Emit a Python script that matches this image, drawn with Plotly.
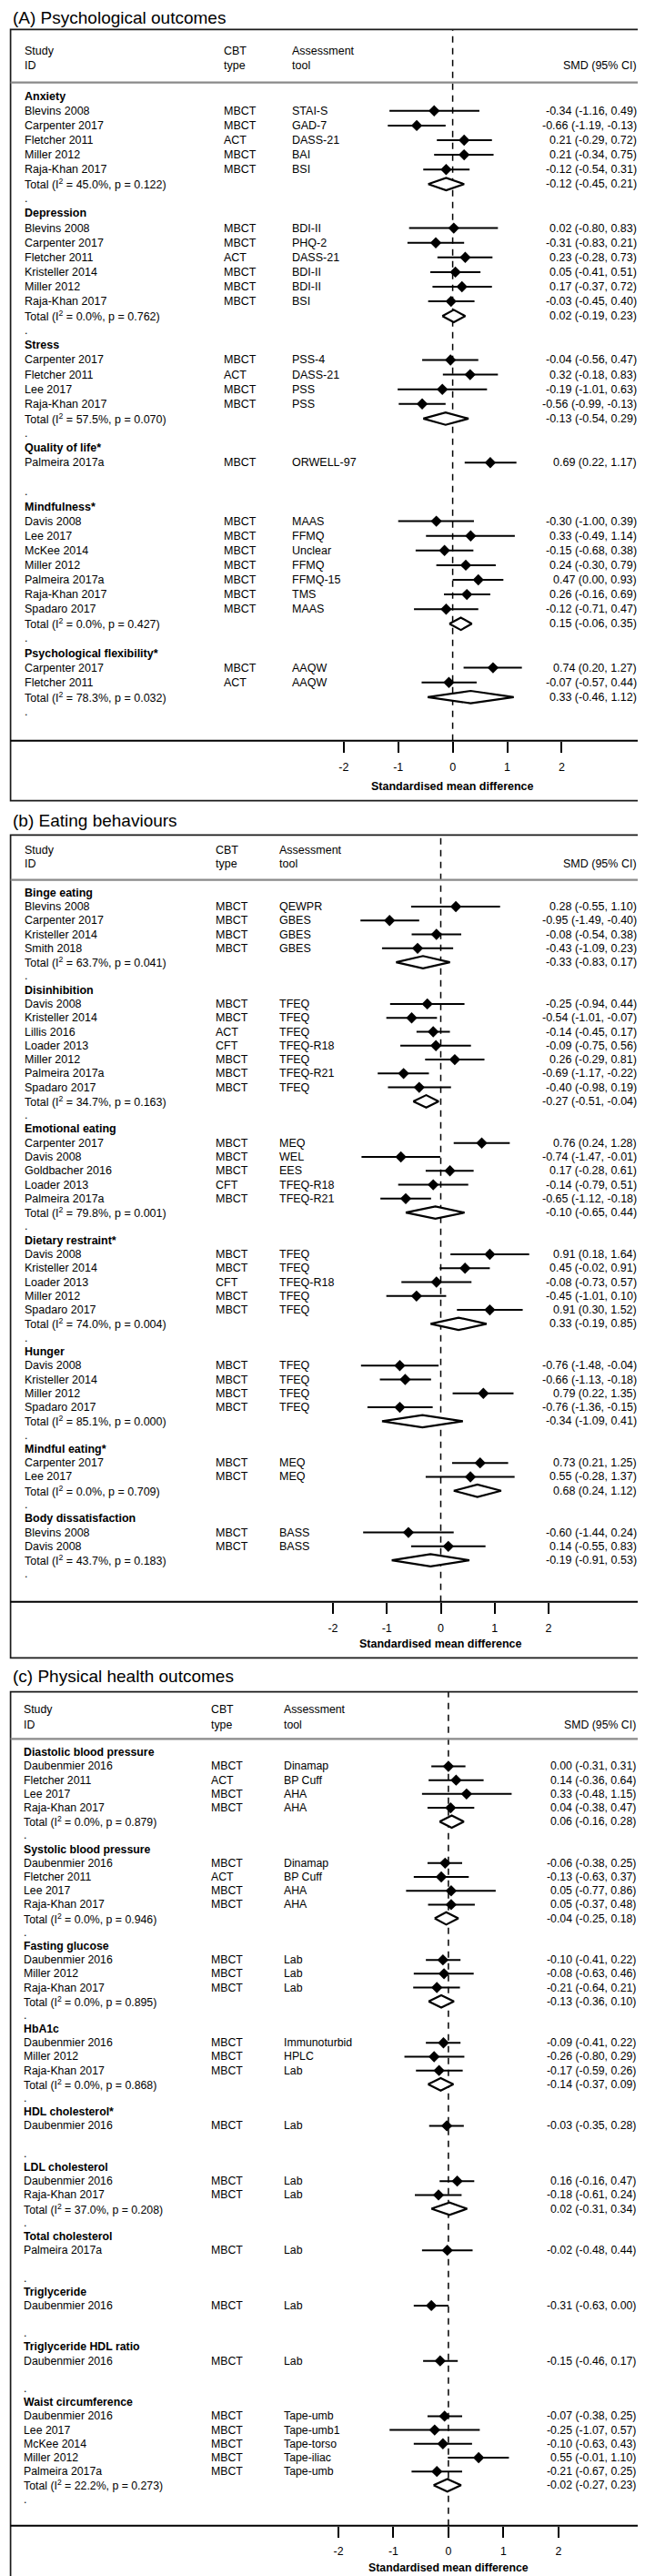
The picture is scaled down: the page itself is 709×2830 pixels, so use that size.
import plotly.graph_objects as go

W, H = 709, 2830
FONT = "Liberation Sans, Arial, Helvetica, sans-serif"

TICK_VALS = [-2, -1, 0, 1, 2]
TICK_LABELS = ["-2", "-1", "0", "1", "2"]
HEADERS = [("Study", "ID"), ("CBT", "type"), ("Assessment", "tool")]
SMD_HEADER = "SMD (95% CI)"
AXIS_TITLE = "Standardised mean difference"

# ---------------- Panel A ----------------
A_TITLE = "(A) Psychological outcomes"
A_GROUPS = ["Anxiety", "Depression", "Stress", "Quality of life*", "Mindfulness*",
            "Psychological flexibility*"]
A_GROUP_N = [5, 6, 4, 1, 7, 2]
A_STUDY = ["Blevins 2008", "Carpenter 2017", "Fletcher 2011", "Miller 2012", "Raja-Khan 2017",
           "Blevins 2008", "Carpenter 2017", "Fletcher 2011", "Kristeller 2014", "Miller 2012", "Raja-Khan 2017",
           "Carpenter 2017", "Fletcher 2011", "Lee 2017", "Raja-Khan 2017",
           "Palmeira 2017a",
           "Davis 2008", "Lee 2017", "McKee 2014", "Miller 2012", "Palmeira 2017a", "Raja-Khan 2017", "Spadaro 2017",
           "Carpenter 2017", "Fletcher 2011"]
A_CBT = ["MBCT", "MBCT", "ACT", "MBCT", "MBCT",
         "MBCT", "MBCT", "ACT", "MBCT", "MBCT", "MBCT",
         "MBCT", "ACT", "MBCT", "MBCT",
         "MBCT",
         "MBCT", "MBCT", "MBCT", "MBCT", "MBCT", "MBCT", "MBCT",
         "MBCT", "ACT"]
A_TOOL = ["STAI-S", "GAD-7", "DASS-21", "BAI", "BSI",
          "BDI-II", "PHQ-2", "DASS-21", "BDI-II", "BDI-II", "BSI",
          "PSS-4", "DASS-21", "PSS", "PSS",
          "ORWELL-97",
          "MAAS", "FFMQ", "Unclear", "FFMQ", "FFMQ-15", "TMS", "MAAS",
          "AAQW", "AAQW"]
A_SMD = [-0.34, -0.66, 0.21, 0.21, -0.12,
         0.02, -0.31, 0.23, 0.05, 0.17, -0.03,
         -0.04, 0.32, -0.19, -0.56,
         0.69,
         -0.30, 0.33, -0.15, 0.24, 0.47, 0.26, -0.12,
         0.74, -0.07]
A_LO = [-1.16, -1.19, -0.29, -0.34, -0.54,
        -0.80, -0.83, -0.28, -0.41, -0.37, -0.45,
        -0.56, -0.18, -1.01, -0.99,
        0.22,
        -1.00, -0.49, -0.68, -0.30, 0.00, -0.16, -0.71,
        0.20, -0.57]
A_HI = [0.49, -0.13, 0.72, 0.75, 0.31,
        0.83, 0.21, 0.73, 0.51, 0.72, 0.40,
        0.47, 0.83, 0.63, -0.13,
        1.17,
        0.39, 1.14, 0.38, 0.79, 0.93, 0.69, 0.47,
        1.27, 0.44]
A_POOL_I2 = ["45.0", "0.0", "57.5", None, "0.0", "78.3"]
A_POOL_P = ["0.122", "0.762", "0.070", None, "0.427", "0.032"]
A_POOL_SMD = [-0.12, 0.02, -0.13, None, 0.15, 0.33]
A_POOL_LO = [-0.45, -0.19, -0.54, None, -0.06, -0.46]
A_POOL_HI = [0.21, 0.23, 0.29, None, 0.35, 1.12]

# ---------------- Panel B ----------------
B_TITLE = "(b) Eating behaviours"
B_GROUPS = ["Binge eating", "Disinhibition", "Emotional eating", "Dietary restraint*", "Hunger",
            "Mindful eating*", "Body dissatisfaction"]
B_GROUP_N = [4, 7, 5, 5, 4, 2, 2]
B_STUDY = ["Blevins 2008", "Carpenter 2017", "Kristeller 2014", "Smith 2018",
           "Davis 2008", "Kristeller 2014", "Lillis 2016", "Loader 2013", "Miller 2012", "Palmeira 2017a", "Spadaro 2017",
           "Carpenter 2017", "Davis 2008", "Goldbacher 2016", "Loader 2013", "Palmeira 2017a",
           "Davis 2008", "Kristeller 2014", "Loader 2013", "Miller 2012", "Spadaro 2017",
           "Davis 2008", "Kristeller 2014", "Miller 2012", "Spadaro 2017",
           "Carpenter 2017", "Lee 2017",
           "Blevins 2008", "Davis 2008"]
B_CBT = ["MBCT", "MBCT", "MBCT", "MBCT",
         "MBCT", "MBCT", "ACT", "CFT", "MBCT", "MBCT", "MBCT",
         "MBCT", "MBCT", "MBCT", "CFT", "MBCT",
         "MBCT", "MBCT", "CFT", "MBCT", "MBCT",
         "MBCT", "MBCT", "MBCT", "MBCT",
         "MBCT", "MBCT",
         "MBCT", "MBCT"]
B_TOOL = ["QEWPR", "GBES", "GBES", "GBES",
          "TFEQ", "TFEQ", "TFEQ", "TFEQ-R18", "TFEQ", "TFEQ-R21", "TFEQ",
          "MEQ", "WEL", "EES", "TFEQ-R18", "TFEQ-R21",
          "TFEQ", "TFEQ", "TFEQ-R18", "TFEQ", "TFEQ",
          "TFEQ", "TFEQ", "TFEQ", "TFEQ",
          "MEQ", "MEQ",
          "BASS", "BASS"]
B_SMD = [0.28, -0.95, -0.08, -0.43,
         -0.25, -0.54, -0.14, -0.09, 0.26, -0.69, -0.40,
         0.76, -0.74, 0.17, -0.14, -0.65,
         0.91, 0.45, -0.08, -0.45, 0.91,
         -0.76, -0.66, 0.79, -0.76,
         0.73, 0.55,
         -0.60, 0.14]
B_LO = [-0.55, -1.49, -0.54, -1.09,
        -0.94, -1.01, -0.45, -0.75, -0.29, -1.17, -0.98,
        0.24, -1.47, -0.28, -0.79, -1.12,
        0.18, -0.02, -0.73, -1.01, 0.30,
        -1.48, -1.13, 0.22, -1.36,
        0.21, -0.28,
        -1.44, -0.55]
B_HI = [1.10, -0.40, 0.38, 0.23,
        0.44, -0.07, 0.17, 0.56, 0.81, -0.22, 0.19,
        1.28, -0.01, 0.61, 0.51, -0.18,
        1.64, 0.91, 0.57, 0.10, 1.52,
        -0.04, -0.18, 1.35, -0.15,
        1.25, 1.37,
        0.24, 0.83]
B_POOL_I2 = ["63.7", "34.7", "79.8", "74.0", "85.1", "0.0", "43.7"]
B_POOL_P = ["0.041", "0.163", "0.001", "0.004", "0.000", "0.709", "0.183"]
B_POOL_SMD = [-0.33, -0.27, -0.10, 0.33, -0.34, 0.68, -0.19]
B_POOL_LO = [-0.83, -0.51, -0.65, -0.19, -1.09, 0.24, -0.91]
B_POOL_HI = [0.17, -0.04, 0.44, 0.85, 0.41, 1.12, 0.53]

# ---------------- Panel C ----------------
C_TITLE = "(c) Physical health outcomes"
C_GROUPS = ["Diastolic blood pressure", "Systolic blood pressure", "Fasting glucose", "HbA1c",
            "HDL cholesterol*", "LDL cholesterol", "Total cholesterol", "Triglyceride",
            "Triglyceride HDL ratio", "Waist circumference"]
C_GROUP_N = [4, 4, 3, 3, 1, 2, 1, 1, 1, 5]
C_STUDY = ["Daubenmier 2016", "Fletcher 2011", "Lee 2017", "Raja-Khan 2017",
           "Daubenmier 2016", "Fletcher 2011", "Lee 2017", "Raja-Khan 2017",
           "Daubenmier 2016", "Miller 2012", "Raja-Khan 2017",
           "Daubenmier 2016", "Miller 2012", "Raja-Khan 2017",
           "Daubenmier 2016",
           "Daubenmier 2016", "Raja-Khan 2017",
           "Palmeira 2017a",
           "Daubenmier 2016",
           "Daubenmier 2016",
           "Daubenmier 2016", "Lee 2017", "McKee 2014", "Miller 2012", "Palmeira 2017a"]
C_CBT = ["MBCT", "ACT", "MBCT", "MBCT",
         "MBCT", "ACT", "MBCT", "MBCT",
         "MBCT", "MBCT", "MBCT",
         "MBCT", "MBCT", "MBCT",
         "MBCT",
         "MBCT", "MBCT",
         "MBCT",
         "MBCT",
         "MBCT",
         "MBCT", "MBCT", "MBCT", "MBCT", "MBCT"]
C_TOOL = ["Dinamap", "BP Cuff", "AHA", "AHA",
          "Dinamap", "BP Cuff", "AHA", "AHA",
          "Lab", "Lab", "Lab",
          "Immunoturbid", "HPLC", "Lab",
          "Lab",
          "Lab", "Lab",
          "Lab",
          "Lab",
          "Lab",
          "Tape-umb", "Tape-umb1", "Tape-torso", "Tape-iliac", "Tape-umb"]
C_SMD = [0.00, 0.14, 0.33, 0.04,
         -0.06, -0.13, 0.05, 0.05,
         -0.10, -0.08, -0.21,
         -0.09, -0.26, -0.17,
         -0.03,
         0.16, -0.18,
         -0.02,
         -0.31,
         -0.15,
         -0.07, -0.25, -0.10, 0.55, -0.21]
C_LO = [-0.31, -0.36, -0.48, -0.38,
        -0.38, -0.63, -0.77, -0.37,
        -0.41, -0.63, -0.64,
        -0.41, -0.80, -0.59,
        -0.35,
        -0.16, -0.61,
        -0.48,
        -0.63,
        -0.46,
        -0.38, -1.07, -0.63, -0.01, -0.67]
C_HI = [0.31, 0.64, 1.15, 0.47,
        0.25, 0.37, 0.86, 0.48,
        0.22, 0.46, 0.21,
        0.22, 0.29, 0.26,
        0.28,
        0.47, 0.24,
        0.44,
        0.00,
        0.17,
        0.25, 0.57, 0.43, 1.10, 0.25]
C_POOL_I2 = ["0.0", "0.0", "0.0", "0.0", None, "37.0", None, None, None, "22.2"]
C_POOL_P = ["0.879", "0.946", "0.895", "0.868", None, "0.208", None, None, None, "0.273"]
C_POOL_SMD = [0.06, -0.04, -0.13, -0.14, None, 0.02, None, None, None, -0.02]
C_POOL_LO = [-0.16, -0.25, -0.36, -0.37, None, -0.31, None, None, None, -0.27]
C_POOL_HI = [0.28, 0.18, 0.10, 0.09, None, 0.34, None, None, None, 0.23]

PANELS = [
    dict(title=A_TITLE, groups=A_GROUPS, n=A_GROUP_N, study=A_STUDY, cbt=A_CBT, tool=A_TOOL,
         smd=A_SMD, lo=A_LO, hi=A_HI, pi2=A_POOL_I2, pp=A_POOL_P,
         psmd=A_POOL_SMD, plo=A_POOL_LO, phi=A_POOL_HI),
    dict(title=B_TITLE, groups=B_GROUPS, n=B_GROUP_N, study=B_STUDY, cbt=B_CBT, tool=B_TOOL,
         smd=B_SMD, lo=B_LO, hi=B_HI, pi2=B_POOL_I2, pp=B_POOL_P,
         psmd=B_POOL_SMD, plo=B_POOL_LO, phi=B_POOL_HI),
    dict(title=C_TITLE, groups=C_GROUPS, n=C_GROUP_N, study=C_STUDY, cbt=C_CBT, tool=C_TOOL,
         smd=C_SMD, lo=C_LO, hi=C_HI, pi2=C_POOL_I2, pp=C_POOL_P,
         psmd=C_POOL_SMD, plo=C_POOL_LO, phi=C_POOL_HI),
]

# ---------------- Geometry (pixels) ----------------
GEO = [
    dict(title_y=11, box_top=24.3, box_bot=871.7, hdr1=48.3, hdr2=64.3, sep=82.7, row1=97.7, dy=16.1,
         axis=805.7, xlab=855.7, zero=489.6, unit=59.9, cs=17.2, cc=236.4, ct=311, cr=694, fs=12.5),
    dict(title_y=893.3, box_top=909.3, box_bot=1813.3, hdr1=925.7, hdr2=941.0, sep=958.7, row1=972.7, dy=15.28,
         axis=1751.7, xlab=1798.3, zero=476.5, unit=59.25, cs=17.2, cc=227.4, ct=297, cr=694, fs=12.5),
    dict(title_y=1833.3, box_top=1850.7, box_bot=2827.3, hdr1=1870.0, hdr2=1886.7, sep=1902.3, row1=1917.3, dy=15.19,
         axis=2766.7, xlab=2813.3, zero=484.9, unit=60.45, cs=15.8, cc=221.5, ct=302, cr=692.6, fs=12.3),
]
BOX_L, BOX_R = 3.6, 705.0
TITLE_SIZE = 19
DIAMOND_HALF_PX = 6.8


def py(px):
    return 1 - px / H


def pxx(px):
    return px / W


def fmt(v, lo, hi):
    return f"{v:.2f} ({lo:.2f}, {hi:.2f})"


fig = go.Figure()
shapes = []
annots = []
layout_axes = {}


def ann(x_px, y, yref, text, anchor="left", size=12.5, yanchor="middle"):
    annots.append(dict(x=pxx(x_px), xref="paper", y=y, yref=yref, text=text, showarrow=False,
                       xanchor=anchor, yanchor=yanchor, align=anchor,
                       font=dict(family=FONT, size=size, color="black")))


for k, (P, g) in enumerate(zip(PANELS, GEO), start=1):
    sfx = "" if k == 1 else str(k)
    xname, yname = "x" + sfx, "y" + sfx
    fs = g["fs"]

    # row structure
    rows = []
    si = 0
    for gi, _ in enumerate(P["groups"]):
        rows.append(("head", gi))
        for _ in range(P["n"][gi]):
            rows.append(("study", si))
            si += 1
        rows.append(("total", gi) if P["psmd"][gi] is not None else ("blank", gi))
        rows.append(("dot", gi))

    r_top = 1 + (g["box_top"] - g["row1"]) / g["dy"]
    r_bot = 1 + (g["axis"] - g["row1"]) / g["dy"]

    layout_axes["xaxis" + sfx] = dict(
        domain=[0, 1], range=[-g["zero"] / g["unit"], (W - g["zero"]) / g["unit"]], anchor=yname,
        showgrid=False, zeroline=False, showline=False, ticks="outside", ticklen=12, tickwidth=2.2,
        tickcolor="black", tickvals=TICK_VALS, ticktext=TICK_LABELS, ticklabelstandoff=5,
        tickfont=dict(family=FONT, size=fs, color="black"), fixedrange=True)
    layout_axes["yaxis" + sfx] = dict(
        domain=[py(g["axis"]), py(g["box_top"])], range=[r_bot, r_top], anchor=xname,
        visible=False, fixedrange=True)

    # traces
    ci_x, ci_y, pt_x, pt_y = [], [], [], []
    for ri, (kind, idx) in enumerate(rows, start=1):
        if kind == "head":
            ann(g["cs"], ri, yname, "<b>" + P["groups"][idx] + "</b>", size=fs)
        elif kind == "study":
            ci_x += [P["lo"][idx], P["hi"][idx], None]
            ci_y += [ri, ri, None]
            pt_x.append(P["smd"][idx])
            pt_y.append(ri)
            ann(g["cs"], ri, yname, P["study"][idx], size=fs)
            ann(g["cc"], ri, yname, P["cbt"][idx], size=fs)
            ann(g["ct"], ri, yname, P["tool"][idx], size=fs)
            ann(g["cr"], ri, yname, fmt(P["smd"][idx], P["lo"][idx], P["hi"][idx]), anchor="right", size=fs)
        elif kind == "total":
            h = DIAMOND_HALF_PX / g["dy"]
            m, lo, hi = P["psmd"][idx], P["plo"][idx], P["phi"][idx]
            fig.add_trace(go.Scatter(x=[lo, m, hi, m, lo], y=[ri, ri - h, ri, ri + h, ri],
                                     xaxis=xname, yaxis=yname, mode="lines", fill="toself",
                                     fillcolor="white", line=dict(color="black", width=2.2),
                                     hoverinfo="skip", showlegend=False))
            label = f"Total (I<sup>2</sup> = {P['pi2'][idx]}%, p = {P['pp'][idx]})"
            ann(g["cs"], ri, yname, label, size=fs)
            ann(g["cr"], ri, yname, fmt(m, lo, hi), anchor="right", size=fs)
        elif kind == "dot":
            ann(g["cs"], ri, yname, ".", size=fs)

    fig.add_trace(go.Scatter(x=ci_x, y=ci_y, xaxis=xname, yaxis=yname, mode="lines",
                             line=dict(color="black", width=2), hoverinfo="skip", showlegend=False))
    fig.add_trace(go.Scatter(x=pt_x, y=pt_y, xaxis=xname, yaxis=yname, mode="markers",
                             marker=dict(symbol="diamond", size=9.5, color="black", line=dict(width=0)),
                             showlegend=False))

    # zero reference dashed line
    shapes.append(dict(type="line", xref=xname, x0=0, x1=0, yref=yname + " domain", y0=0, y1=1,
                       line=dict(color="black", width=1.5, dash="7px,6px"), layer="below"))
    # box
    shapes.append(dict(type="rect", xref="paper", yref="paper", x0=pxx(BOX_L), x1=pxx(BOX_R),
                       y0=py(g["box_bot"]), y1=py(g["box_top"]), line=dict(color="#1a1a1a", width=1.7)))
    # header separator
    shapes.append(dict(type="line", xref="paper", yref="paper", x0=pxx(BOX_L), x1=pxx(BOX_R),
                       y0=py(g["sep"]), y1=py(g["sep"]), line=dict(color="#8a8a8a", width=2.2)))
    # axis divider
    shapes.append(dict(type="line", xref="paper", yref="paper", x0=pxx(BOX_L), x1=pxx(BOX_R),
                       y0=py(g["axis"]), y1=py(g["axis"]), line=dict(color="black", width=2)))

    # headers
    for (t1, t2), cx in zip(HEADERS, [g["cs"], g["cc"], g["ct"]]):
        ann(cx, py(g["hdr1"]), "paper", t1, size=fs)
        ann(cx, py(g["hdr2"]), "paper", t2, size=fs)
    ann(g["cr"], py(g["hdr2"]), "paper", SMD_HEADER, anchor="right", size=fs)

    # panel title
    ann(4.0, py(g["title_y"]), "paper", P["title"], size=TITLE_SIZE)
    # axis title
    annots.append(dict(x=0, xref=xname, y=py(g["xlab"]), yref="paper", text="<b>" + AXIS_TITLE + "</b>",
                       showarrow=False, xanchor="center", yanchor="middle",
                       font=dict(family=FONT, size=fs, color="black")))

fig.update_layout(
    width=W, height=H, autosize=False,
    margin=dict(l=0, r=0, t=0, b=0),
    paper_bgcolor="white", plot_bgcolor="rgba(0,0,0,0)",
    showlegend=False, shapes=shapes, annotations=annots,
    font=dict(family=FONT, color="black"),
    **layout_axes,
)

fig.write_html("out.html")
